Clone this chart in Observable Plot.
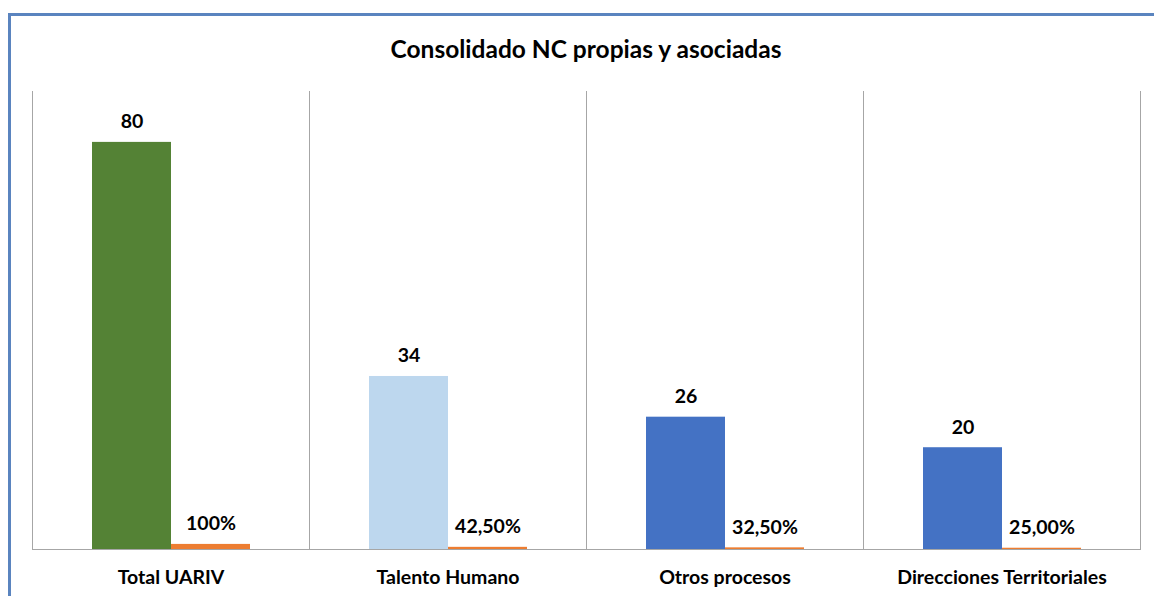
<!DOCTYPE html>
<html>
<head>
<meta charset="utf-8">
<script src="https://cdn.jsdelivr.net/npm/d3@7"></script>
<script src="https://cdn.jsdelivr.net/npm/@observablehq/plot@0.6"></script>
<style>
  html, body { margin: 0; padding: 0; background: #fff; overflow: hidden; }
  body { width: 1154px; height: 596px; position: relative; font-family: Lato, "Open Sans", sans-serif; }
  #border { position: absolute; left: 8px; top: 13px; width: 1200px; height: 700px;
            border-left: 3px solid #5a84bf; border-top: 3px solid #5a84bf; box-sizing: border-box; }
  #title { position: absolute; left: 31px; width: 1110px; top: 34px; line-height: 30px;
           text-align: center; font-size: 24.5px; font-weight: bold; color: #000; }
  #chart { position: absolute; left: 0; top: 80px; }
</style>
</head>
<body>
<div id="border"></div>
<div id="title">Consolidado NC propias y asociadas</div>
<div id="chart"></div>
<script>
const categories = ["Total UARIV", "Talento Humano", "Otros procesos", "Direcciones Territoriales"];
const series = ["NC", "%"];
const counts = [80, 34, 26, 20];
const shares = [1, 0.425, 0.325, 0.25];
const shareLabels = ["100%", "42,50%", "32,50%", "25,00%"];

const rows = [];
categories.forEach((c, i) => {
  rows.push({category: c, series: "NC", value: counts[i], label: String(counts[i]), key: c});
  rows.push({category: c, series: "%", value: shares[i], label: shareLabels[i], key: "%"});
});

const chart = Plot.plot({
  width: 1154,
  height: 516,
  marginTop: 11,
  marginBottom: 47,
  marginLeft: 31,
  marginRight: 13,
  style: {fontFamily: "Lato, 'Open Sans', sans-serif", color: "#000", background: "transparent"},
  fx: {domain: categories, padding: 0, label: null},
  x: {domain: series, paddingInner: 0, paddingOuter: 0.745, axis: null},
  y: {domain: [0, 90], axis: null},
  color: {domain: [...categories, "%"], range: ["#548235", "#BDD7EE", "#4472C4", "#4472C4", "#ED7D31"]},
  marks: [
    Plot.frame({anchor: "left", stroke: "#a6a6a6"}),
    Plot.frame({anchor: "right", stroke: "#a6a6a6"}),
    Plot.barY(rows, {fx: "category", x: "series", y: "value", fill: "key"}),
    Plot.ruleY([0], {stroke: "#a6a6a6"}),
    Plot.text(rows, {fx: "category", x: "series", y: "value", text: "label", lineAnchor: "bottom",
                     dy: -14, fontSize: 19.5, fontWeight: "bold", fill: "#000"}),
    Plot.axisFx({anchor: "bottom", tickSize: 0, tickPadding: 21, fontSize: 19.5, fontWeight: "bold", label: null})
  ]
});
document.getElementById("chart").appendChild(chart);
</script>
</body>
</html>
